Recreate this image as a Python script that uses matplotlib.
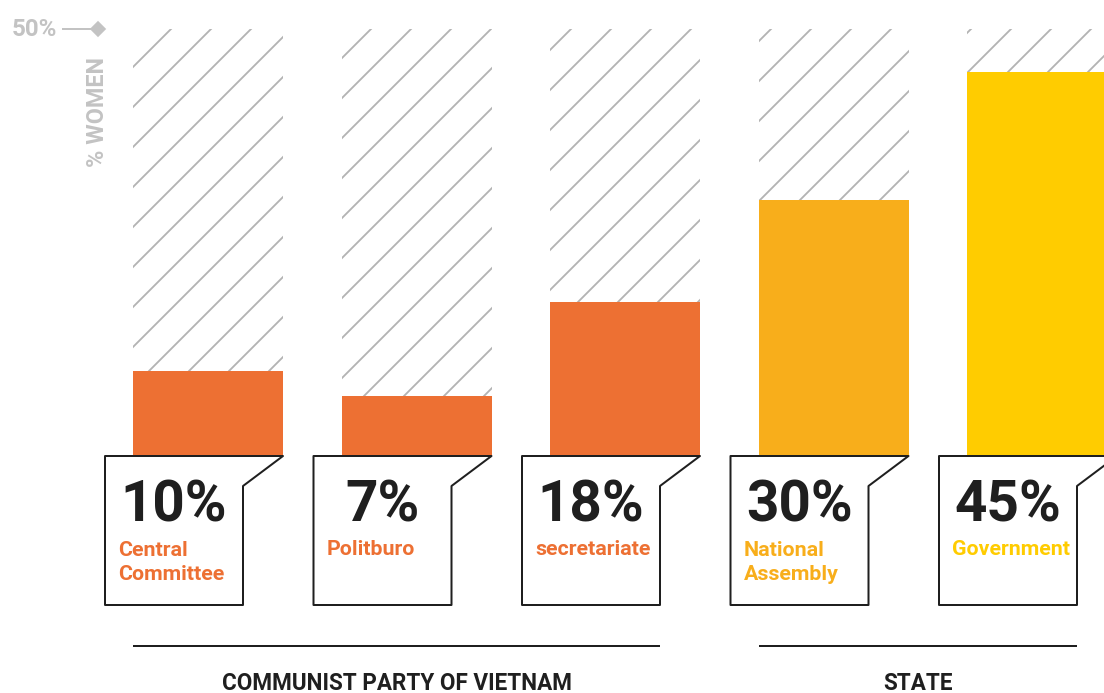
import matplotlib
matplotlib.use("Agg")
import matplotlib.pyplot as plt
from matplotlib.patches import Polygon

# data
labels = ["Central\nCommittee", "Politburo", "secretariate", "National\nAssembly", "Government"]
values = [10, 7, 18, 30, 45]
groups = ["COMMUNIST PARTY OF VIETNAM", "STATE"]
group_members = [[0, 1, 2], [3, 4]]
y_max = 50

# styles
bar_colors = ["#ED7033", "#ED7033", "#ED7033", "#F8AE1B", "#FFCC00"]
hatch_gray = "#b3b3b3"
axis_gray = "#c3c3c3"
ink = "#1f1f1f"

plt.rcParams["font.family"] = ["Roboto", "DejaVu Sans"]
plt.rcParams["hatch.linewidth"] = 1.1

DPI = 120
W, H = 1104, 693
fig = plt.figure(figsize=(W / DPI, H / DPI), dpi=DPI)
ax = fig.add_axes([0, 0, 1, 1])

# pixel layout -> data units
step_px = 208.5          # distance between bar centres
c0_px = 208              # centre of first bar
base_px = 456            # 0 %
top_px = 29              # 50 %
ppu = (base_px - top_px) / y_max
bw = 150 / step_px

def px(dx):
    return dx / step_px

def py(dy):
    return dy / ppu

ax.set_xlim(-c0_px / step_px, (W - c0_px) / step_px)
ax.set_ylim(-(H - base_px) / ppu, base_px / ppu)
ax.axis("off")

idx = list(range(len(values)))
ax.bar(idx, [y_max] * len(idx), width=bw, color="white", edgecolor=hatch_gray,
       hatch="/", linewidth=0, zorder=1)
ax.bar(idx, values, width=bw, color=bar_colors, linewidth=0, zorder=2)

# label boxes
for i, (lab, v, col) in enumerate(zip(labels, values, bar_colors)):
    left = i - bw / 2 - px(28)
    notch_x = i - bw / 2 + px(110)
    pts = [(left, 0), (i + bw / 2, 0), (notch_x, -py(30)),
           (notch_x, -py(149)), (left, -py(149))]
    ax.add_patch(Polygon(pts, closed=True, facecolor="white", edgecolor=ink,
                         linewidth=1.2, joinstyle="round", zorder=3))
    ax.text((left + notch_x) / 2, -py(66), f"{v}%", ha="center", va="baseline",
            fontsize=34, fontweight="bold", color=ink, zorder=4)
    # baseline alignment uses the last line, so shift down for wrapped labels
    n_extra = lab.count("\n")
    ax.text(left + px(13), -py(99 + 25 * n_extra), lab, ha="left", va="baseline",
            fontsize=12.8, fontweight="bold", color=col, linespacing=1.32, zorder=4)

# group rules and names
for name, mem in zip(groups, group_members):
    x1 = mem[0] - bw / 2
    x2 = mem[-1] - bw / 2 + px(110)
    ax.plot([x1, x2], [-py(190), -py(190)], color=ink, lw=1.2, solid_capstyle="butt")
    ax.text((x1 + x2) / 2, -py(234), name, ha="center", va="baseline",
            fontsize=13.5, fontweight="bold", color=ink)

# axis marker
ax.plot([-bw / 2 - px(70), -bw / 2 - px(35)], [y_max, y_max], color=axis_gray, lw=1.2)
ax.plot([-bw / 2 - px(35)], [y_max], marker="D", color=axis_gray, markersize=6)
ax.text(-bw / 2 - px(76), y_max - py(7), f"{y_max}%", ha="right", va="baseline",
        fontsize=14.5, fontweight="bold", color=axis_gray)
ax.text(-bw / 2 - px(36), y_max - py(28), "% WOMEN", rotation=90, ha="center",
        va="top", fontsize=14, fontweight="bold", color=axis_gray)

fig.savefig("out.png", dpi=DPI, facecolor="white")
